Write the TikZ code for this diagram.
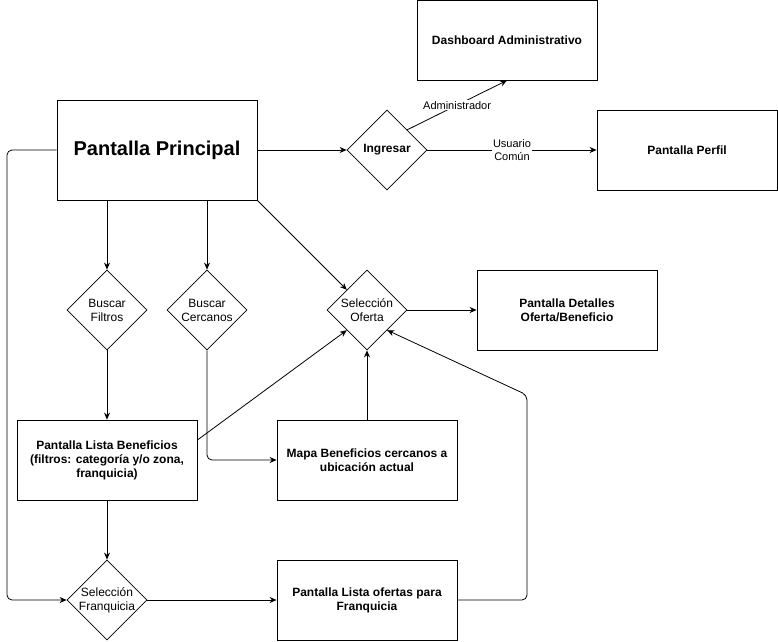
\documentclass[tikz,border=0pt]{standalone}
\usepackage{fontspec}
\setmainfont{Liberation Sans}
\usetikzlibrary{shapes.geometric}
\usetikzlibrary{arrows.meta}
\tikzset{screen/.style={draw, minimum width=180pt, minimum height=80pt, inner sep=0pt,
   align=center, font=\fontsize{12}{14}\selectfont\bfseries},
 decision/.style={draw, diamond, minimum width=80pt, minimum height=80pt, inner sep=0pt},
 dtext/.style={align=center, font=\fontsize{12}{14}\selectfont},
 lbl/.style={fill=white, align=center, inner sep=1pt, font=\fontsize{11}{13}\selectfont},
 >={Stealth[length=7pt,width=6pt]},
 }

\begin{document}
\begin{tikzpicture}[x=1pt, y=-1pt, line width=0.8pt]
        \useasboundingbox (0,0) rectangle (778,641);
        % pantallas
        \node[screen, minimum width=200pt, minimum height=100pt, font=\fontsize{20}{24}\selectfont\bfseries] (pp) at (157,150) {Pantalla Principal};
        \node[screen] (dash) at (507,40) {Dashboard Administrativo};
        \node[screen] (perfil) at (687,150) {Pantalla Perfil};
        \node[screen] (det) at (567,310) {Pantalla Detalles\\Oferta/Beneficio};
        \node[screen] (lb) at (107,460) {Pantalla Lista Beneficios\\(filtros: categoría y/o zona,\\franquicia)};
        \node[screen] (mapa) at (367,460) {Mapa Beneficios cercanos a\\ubicación actual};
        \node[screen] (lo) at (367,600) {Pantalla Lista ofertas para\\Franquicia};
        % decisiones
        \node[decision, label={[dtext, font=\fontsize{12}{14}\selectfont\bfseries]center:Ingresar}] (ing) at (387,150) {};
        \node[decision, label={[dtext]center:Buscar\\Filtros}] (bf) at (107,310) {};
        \node[decision, label={[dtext]center:Buscar\\Cercanos}] (bc) at (207,310) {};
        \node[decision, label={[dtext]center:Selección\\Oferta}] (so) at (367,310) {};
        \node[decision, label={[dtext]center:Selección\\Franquicia}] (sf) at (107,600) {};
        % flechas
        \draw[->] (pp.east) -- (ing.west);
        \draw[->] (ing.north east) -- node[lbl] {Administrador} (dash.south);
        \draw[->] (ing.east) -- node[lbl] {Usuario\\Común} (perfil.west);
        \draw[->] (pp.south -| bf) -- (bf.north);
        \draw[->] (pp.south -| bc) -- (bc.north);
        \draw[->] (pp.south east) -- (so.north west);
        \draw[->] (so.east) -- (det.west);
        \draw[->] (bf.south) -- (bf.south |- lb.north);
        \draw[->, rounded corners=5pt] (bc.south) -- (207,460) -- (mapa.west);
        \draw[->] ([yshift=20pt]lb.east) -- (so.south west);
        \draw[->] (mapa.north) -- (so.south);
        \draw[->] (lb.south) -- (sf.north);
        \draw[->, rounded corners=5pt] (pp.west) -- (7,150) -- (7,600) -- (sf.west);
        \draw[->] (sf.east) -- (lo.west);
        \draw[->, rounded corners=5pt] (lo.east) -- (527,600) -- (527,395) -- (so.south east);
    \end{tikzpicture}
\end{document}
